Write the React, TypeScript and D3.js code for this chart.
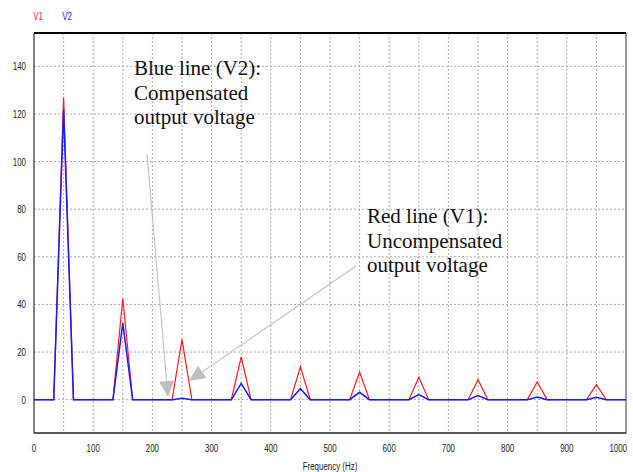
import React from 'react'
import { scaleLinear, line, range } from 'd3'

// harmonic spectrum (odd harmonics of 50 Hz), FFT bin width 50/3 Hz
const harmonics = [50, 150, 250, 350, 450, 550, 650, 750, 850, 950]
const v1Peaks = [127, 42.5, 25.3, 18, 13.8, 11.6, 9.4, 8.4, 7.4, 6.3]
const v2Peaks = [121.8, 32.2, 0.6, 6.8, 4.6, 3.1, 2.1, 1.7, 1.1, 1.0]
const binWidth = 50 / 3
const xTicks = [0, 100, 200, 300, 400, 500, 600, 700, 800, 900, 1000]
const yTicks = [0, 20, 40, 60, 80, 100, 120, 140]

const W = 633, H = 472
const left = 34, right = 626, top = 33, bottom = 433

const smallFont = "'Liberation Sans', Arial, sans-serif"
const serif = "'Liberation Serif', 'Times New Roman', serif"

function series(peaks: number[]): [number, number][] {
    const pts: [number, number][] = [[0, 0]]
    harmonics.forEach((h, i) => {
        pts.push([h - binWidth, 0], [h, peaks[i]], [h + binWidth, 0])
    })
    pts.push([1000, 0])
    return pts
}

// narrow label (the original uses a condensed sans)
function Label(props: { x: number, y: number, anchor?: string, fill?: string, children: any }) {
    return (
        <text transform={`translate(${props.x},${props.y}) scale(0.72,1)`} fontSize={11}
              fontFamily={smallFont} textAnchor={props.anchor || 'middle'} fill={props.fill || '#222'}>
            {props.children}
        </text>
    )
}

function Arrow(props: { x1: number, y1: number, x2: number, y2: number }) {
    const { x1, y1, x2, y2 } = props
    const a = Math.atan2(y2 - y1, x2 - x1)
    const len = 16, half = 7.5
    const bx = x2 - len * Math.cos(a), by = y2 - len * Math.sin(a)
    const p1 = [bx + half * Math.sin(a), by - half * Math.cos(a)]
    const p2 = [bx - half * Math.sin(a), by + half * Math.cos(a)]
    return (
        <g>
            <line x1={x1} y1={y1} x2={bx} y2={by} stroke="#c4c4c4" strokeWidth={1.2} />
            <polygon points={`${x2},${y2} ${p1[0]},${p1[1]} ${p2[0]},${p2[1]}`} fill="#bdbdbd" />
        </g>
    )
}

export default function App() {
    const x = scaleLinear().domain([0, 1000]).range([left, right])
    const y = scaleLinear().domain([-14, 154]).range([bottom, top])

    const path = line<[number, number]>()
        .x(d => x(d[0]))
        .y(d => y(d[1]))

    const vGrid = range(50, 1000, 50)
    const hGrid = yTicks

    return (
        <svg width={W} height={H} style={{ position: 'absolute', left: 0, top: 0, background: '#fff' }}>
            <rect x={0} y={0} width={W} height={H} fill="#fff" />

            {/* legend */}
            <Label x={38} y={20} fill="#ff2020">V1</Label>
            <Label x={67} y={20} fill="#2020ff">V2</Label>

            {/* grid */}
            {vGrid.map(v => (
                <line key={'v' + v} x1={x(v)} x2={x(v)} y1={top} y2={bottom}
                      stroke="#aaa" strokeWidth={1} strokeDasharray="2,2" />
            ))}
            {hGrid.map(v => (
                <line key={'h' + v} x1={left} x2={right} y1={y(v)} y2={y(v)}
                      stroke="#aaa" strokeWidth={1} strokeDasharray="2,2" />
            ))}

            {/* frame */}
            <line x1={left} x2={right} y1={top} y2={top} stroke="#000" strokeWidth={2} />
            <line x1={right} x2={right} y1={top} y2={bottom} stroke="#555" strokeWidth={1.2} />
            <line x1={left} x2={right} y1={bottom} y2={bottom} stroke="#222" strokeWidth={1.5} />
            <line x1={left} x2={left} y1={top} y2={bottom} stroke="#555" strokeWidth={1.5} />

            {/* ticks */}
            {yTicks.map(t => (
                <Label key={'yt' + t} x={26} y={y(t) + 4} anchor="end">{t}</Label>
            ))}
            {xTicks.map((t, i) => (
                i === xTicks.length - 1
                    ? <Label key={'xt' + t} x={x(t) + 1} y={452} anchor="end">{t}</Label>
                    : <Label key={'xt' + t} x={x(t)} y={452}>{t}</Label>
            ))}
            <Label x={330} y={470}>Frequency (Hz)</Label>

            {/* data */}
            <path d={path(series(v1Peaks)) || ''} fill="none" stroke="#ff1a1a" strokeWidth={1.2} />
            <path d={path(series(v2Peaks)) || ''} fill="none" stroke="#1a1aff" strokeWidth={1.5} />

            {/* annotations */}
            <Arrow x1={147} y1={154} x2={168} y2={397} />
            <Arrow x1={356} y1={266} x2={189} y2={381} />

            <g fontFamily={serif} fontSize={21} fill="#111">
                <text x={134} y={75}>Blue line (V2):</text>
                <text x={134} y={99.5}>Compensated</text>
                <text x={134} y={124}>output voltage</text>
                <text x={367} y={223}>Red line (V1):</text>
                <text x={367} y={247.5}>Uncompensated</text>
                <text x={367} y={272}>output voltage</text>
            </g>
        </svg>
    )
}
